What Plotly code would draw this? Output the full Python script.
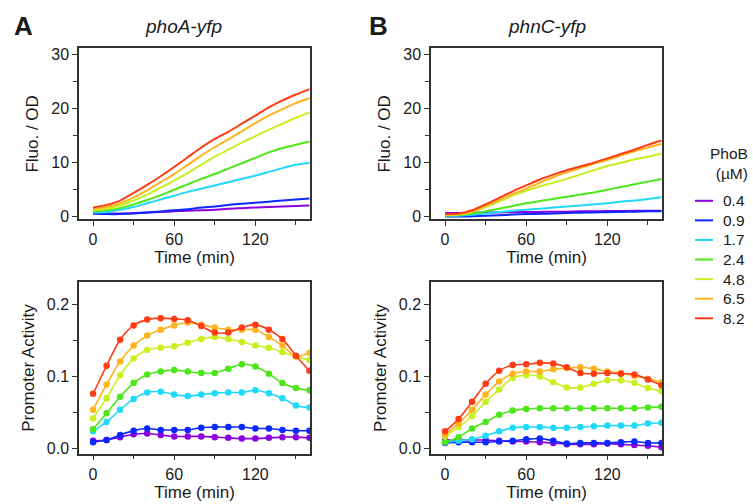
import plotly.graph_objects as go

# ---------------- data ----------------
time_min = [0, 10, 20, 30, 40, 50, 60, 70, 80, 90, 100, 110, 120, 130, 140, 150, 160]
phob_labels = ["0.4", "0.9", "1.7", "2.4", "4.8", "6.5", "8.2"]
colors = ["#8B00E0", "#0A28FF", "#20D8F8", "#4CE61A", "#C8F01E", "#FFB41E", "#FF3C14"]

# phoA-yfp fluorescence / OD
phoA_fluo_04 = [0.6, 0.6, 0.6, 0.7, 0.8, 0.9, 1.0, 1.1, 1.2, 1.3, 1.5, 1.6, 1.7, 1.8, 1.9, 2.0, 2.1]
phoA_fluo_09 = [0.6, 0.5, 0.5, 0.6, 0.8, 1.0, 1.2, 1.4, 1.7, 1.9, 2.2, 2.4, 2.6, 2.8, 3.0, 3.2, 3.4]
phoA_fluo_17 = [0.8, 0.9, 1.3, 1.8, 2.5, 3.2, 3.9, 4.6, 5.2, 5.8, 6.4, 7.0, 7.6, 8.3, 9.0, 9.6, 10.0]
phoA_fluo_24 = [1.0, 1.2, 1.6, 2.3, 3.1, 4.0, 5.0, 6.0, 7.0, 7.9, 8.9, 9.9, 10.9, 11.9, 12.7, 13.3, 13.9]
phoA_fluo_48 = [1.2, 1.5, 2.1, 3.0, 4.1, 5.4, 6.7, 8.1, 9.6, 11.1, 12.4, 13.7, 14.9, 16.1, 17.2, 18.3, 19.3]
phoA_fluo_65 = [1.4, 1.8, 2.5, 3.6, 4.9, 6.4, 7.9, 9.6, 11.3, 12.9, 14.3, 15.8, 17.3, 18.7, 19.9, 21.0, 21.9]
phoA_fluo_82 = [1.7, 2.2, 3.0, 4.4, 5.9, 7.5, 9.2, 11.0, 12.8, 14.4, 15.7, 17.2, 18.7, 20.2, 21.5, 22.6, 23.6]

# phnC-yfp fluorescence / OD
phnC_fluo_04 = [0.7, 0.7, 0.75, 0.8, 0.8, 0.85, 0.9, 0.9, 0.95, 0.95, 1.0, 1.0, 1.05, 1.05, 1.1, 1.1, 1.1]
phnC_fluo_09 = [0.05, 0.05, 0.1, 0.2, 0.3, 0.4, 0.5, 0.55, 0.6, 0.7, 0.75, 0.8, 0.85, 0.9, 0.95, 1.0, 1.0]
phnC_fluo_17 = [0.2, 0.2, 0.4, 0.6, 0.9, 1.1, 1.3, 1.5, 1.7, 1.9, 2.1, 2.3, 2.5, 2.8, 3.0, 3.3, 3.6]
phnC_fluo_24 = [0.3, 0.3, 0.6, 1.0, 1.5, 2.0, 2.5, 2.9, 3.3, 3.7, 4.1, 4.5, 5.0, 5.5, 6.0, 6.5, 7.0]
phnC_fluo_48 = [0.3, 0.4, 0.9, 1.8, 2.8, 3.9, 4.8, 5.6, 6.3, 7.0, 7.8, 8.6, 9.4, 10.0, 10.6, 11.1, 11.7]
phnC_fluo_65 = [0.4, 0.5, 1.0, 2.0, 3.1, 4.2, 5.2, 6.3, 7.3, 8.2, 9.0, 9.8, 10.5, 11.3, 12.1, 12.8, 13.5]
phnC_fluo_82 = [0.5, 0.6, 1.2, 2.3, 3.5, 4.7, 5.8, 6.9, 7.8, 8.6, 9.3, 10.0, 10.8, 11.6, 12.4, 13.3, 14.1]

# phoA-yfp promoter activity
phoA_act_04 = [0.011, 0.012, 0.016, 0.020, 0.021, 0.019, 0.017, 0.017, 0.017, 0.016, 0.015, 0.014, 0.014, 0.015, 0.016, 0.016, 0.015]
phoA_act_09 = [0.009, 0.012, 0.019, 0.025, 0.028, 0.026, 0.026, 0.026, 0.029, 0.030, 0.030, 0.030, 0.028, 0.028, 0.026, 0.025, 0.025]
phoA_act_17 = [0.024, 0.037, 0.054, 0.069, 0.078, 0.079, 0.075, 0.073, 0.075, 0.077, 0.078, 0.078, 0.081, 0.077, 0.070, 0.060, 0.057]
phoA_act_24 = [0.027, 0.049, 0.072, 0.091, 0.103, 0.107, 0.109, 0.107, 0.105, 0.105, 0.111, 0.117, 0.114, 0.104, 0.091, 0.084, 0.081]
phoA_act_48 = [0.042, 0.070, 0.102, 0.125, 0.137, 0.140, 0.142, 0.147, 0.152, 0.155, 0.152, 0.148, 0.143, 0.140, 0.134, 0.128, 0.123]
phoA_act_65 = [0.054, 0.089, 0.121, 0.143, 0.157, 0.165, 0.171, 0.175, 0.172, 0.168, 0.165, 0.165, 0.165, 0.155, 0.143, 0.128, 0.133]
phoA_act_82 = [0.076, 0.115, 0.151, 0.171, 0.179, 0.181, 0.180, 0.178, 0.170, 0.161, 0.161, 0.168, 0.172, 0.165, 0.152, 0.129, 0.108]

# phnC-yfp promoter activity
phnC_act_04 = [0.012, 0.012, 0.012, 0.012, 0.011, 0.010, 0.010, 0.009, 0.008, 0.006, 0.006, 0.006, 0.007, 0.006, 0.005, 0.004, 0.002]
phnC_act_09 = [0.008, 0.009, 0.009, 0.009, 0.010, 0.011, 0.013, 0.014, 0.011, 0.007, 0.008, 0.008, 0.008, 0.009, 0.010, 0.008, 0.008]
phnC_act_17 = [0.009, 0.011, 0.013, 0.018, 0.024, 0.029, 0.030, 0.030, 0.029, 0.029, 0.030, 0.031, 0.032, 0.032, 0.032, 0.035, 0.036]
phnC_act_24 = [0.009, 0.016, 0.028, 0.037, 0.047, 0.053, 0.055, 0.056, 0.056, 0.056, 0.056, 0.056, 0.056, 0.056, 0.056, 0.057, 0.058]
phnC_act_48 = [0.017, 0.030, 0.045, 0.065, 0.082, 0.098, 0.102, 0.100, 0.092, 0.085, 0.085, 0.090, 0.095, 0.095, 0.091, 0.084, 0.080]
phnC_act_65 = [0.019, 0.035, 0.054, 0.075, 0.093, 0.104, 0.107, 0.107, 0.110, 0.112, 0.113, 0.111, 0.107, 0.105, 0.101, 0.097, 0.092]
phnC_act_82 = [0.024, 0.041, 0.065, 0.090, 0.108, 0.116, 0.117, 0.119, 0.118, 0.113, 0.105, 0.104, 0.105, 0.104, 0.103, 0.096, 0.088]

x_ticks = [0, 60, 120]
fluo_ticks = [0, 10, 20, 30]
act_ticks = [0.0, 0.1, 0.2]

phoA_fluo = [phoA_fluo_04, phoA_fluo_09, phoA_fluo_17, phoA_fluo_24, phoA_fluo_48, phoA_fluo_65, phoA_fluo_82]
phnC_fluo = [phnC_fluo_04, phnC_fluo_09, phnC_fluo_17, phnC_fluo_24, phnC_fluo_48, phnC_fluo_65, phnC_fluo_82]
phoA_act = [phoA_act_04, phoA_act_09, phoA_act_17, phoA_act_24, phoA_act_48, phoA_act_65, phoA_act_82]
phnC_act = [phnC_act_04, phnC_act_09, phnC_act_17, phnC_act_24, phnC_act_48, phnC_act_65, phnC_act_82]

# ---------------- figure ----------------
W, H = 753, 504
FONT = "Arial, 'Liberation Sans', Helvetica, sans-serif"
TXT = "#1a1a1a"
AX = "#333333"

def px_x(p):
    return p / W

def px_y(p):
    return 1 - p / H

fig = go.Figure()

panels = [
    (phoA_fluo, "x", "y", False),
    (phnC_fluo, "x2", "y2", False),
    (phoA_act, "x3", "y3", True),
    (phnC_act, "x4", "y4", True),
]

for data, xa, ya, mk in panels:
    for i, series in enumerate(data):
        fig.add_trace(go.Scatter(
            x=time_min, y=series, xaxis=xa, yaxis=ya,
            mode="lines+markers" if mk else "lines",
            line=dict(color=colors[i], width=1.6 if mk else 2.0, shape="spline",
                      smoothing=0.8 if mk else 0.6),
            marker=dict(size=6.5, color=colors[i]),
            name=phob_labels[i], showlegend=False,
        ))

def xaxis_cfg(domain, anchor):
    return dict(
        domain=domain, anchor=anchor, range=[-10.4, 160.4],
        tickmode="array", tickvals=x_ticks, ticks="outside", ticklen=5, tickwidth=1.2,
        tickcolor=AX, showline=True, linecolor=AX, linewidth=1.5, mirror=True,
        showgrid=False, zeroline=False,
        minor=dict(tickmode="array", tickvals=[30, 90, 150], ticks="outside", ticklen=4, tickwidth=1.2, tickcolor=AX),
        tickfont=dict(family=FONT, size=16, color=TXT),
        title=dict(text="Time (min)", font=dict(family=FONT, size=17, color=TXT), standoff=1),
    )

def yaxis_cfg(domain, anchor, rng, ticks, minor_vals, title, fmt):
    return dict(
        domain=domain, anchor=anchor, range=rng,
        tickmode="array", tickvals=ticks, ticks="outside", ticklen=5, tickwidth=1.2,
        tickcolor=AX, showline=True, linecolor=AX, linewidth=1.5, mirror=True,
        showgrid=False, zeroline=False, tickformat=fmt,
        minor=dict(tickmode="array", tickvals=minor_vals, ticks="outside", ticklen=4, tickwidth=1.2, tickcolor=AX),
        tickfont=dict(family=FONT, size=16, color=TXT),
        title=dict(text=title, font=dict(family=FONT, size=17, color=TXT), standoff=8),
    )

xl = [px_x(79), px_x(310)]
xr = [px_x(431), px_x(662)]
yt = [px_y(221), px_y(47)]
yb = [px_y(459), px_y(285)]

fig.update_layout(
    width=W, height=H,
    margin=dict(l=0, r=0, t=0, b=0),
    paper_bgcolor="white", plot_bgcolor="white",
    showlegend=False,
    font=dict(family=FONT, color=TXT),
    xaxis=xaxis_cfg(xl, "y"),
    yaxis=yaxis_cfg(yt, "x", [-0.5, 31.15], fluo_ticks, [5, 15, 25], "Fluo. / OD", "d"),
    xaxis2=xaxis_cfg(xr, "y2"),
    yaxis2=yaxis_cfg(yt, "x2", [-0.5, 31.15], fluo_ticks, [5, 15, 25], "Fluo. / OD", "d"),
    xaxis3=xaxis_cfg(xl, "y3"),
    yaxis3=yaxis_cfg(yb, "x3", [-0.007, 0.2305], act_ticks, [0.05, 0.15], "Promoter Activity", ".1f"),
    xaxis4=xaxis_cfg(xr, "y4"),
    yaxis4=yaxis_cfg(yb, "x4", [-0.007, 0.2305], act_ticks, [0.05, 0.15], "Promoter Activity", ".1f"),
)

annotations = [
    dict(text="<b>A</b>", x=px_x(23), y=px_y(24), font=dict(size=26, family=FONT, color=TXT)),
    dict(text="<b>B</b>", x=px_x(378), y=px_y(24), font=dict(size=26, family=FONT, color=TXT)),
    dict(text="<i>phoA-yfp</i>", x=px_x(183), y=px_y(25), font=dict(size=19, family=FONT, color=TXT)),
    dict(text="<i>phnC-yfp</i>", x=px_x(547), y=px_y(25), font=dict(size=19, family=FONT, color=TXT)),
    dict(text="PhoB<br>(µM)", x=px_x(750), y=px_y(164), xanchor="right", align="right",
         font=dict(size=15.5, family=FONT, color=TXT)),
]
for a in annotations:
    a.setdefault("xanchor", "center")
    a.update(xref="paper", yref="paper", yanchor="middle", showarrow=False)

# manual legend built from the series labels/colors
shapes = []
for i, (lab, col) in enumerate(zip(phob_labels, colors)):
    yy = 202 + i * 19.9
    shapes.append(dict(type="line", xref="paper", yref="paper",
                       x0=px_x(695), x1=px_x(713), y0=px_y(yy), y1=px_y(yy),
                       line=dict(color=col, width=2)))
    annotations.append(dict(text=lab, x=px_x(721), y=px_y(yy), xanchor="left", yanchor="middle",
                            xref="paper", yref="paper", showarrow=False,
                            font=dict(size=15.5, family=FONT, color=TXT)))

fig.update_layout(annotations=annotations, shapes=shapes)

fig.write_html("out.html", config={"displayModeBar": False},
               post_script="document.body.style.margin='0';document.body.style.padding='0';")
